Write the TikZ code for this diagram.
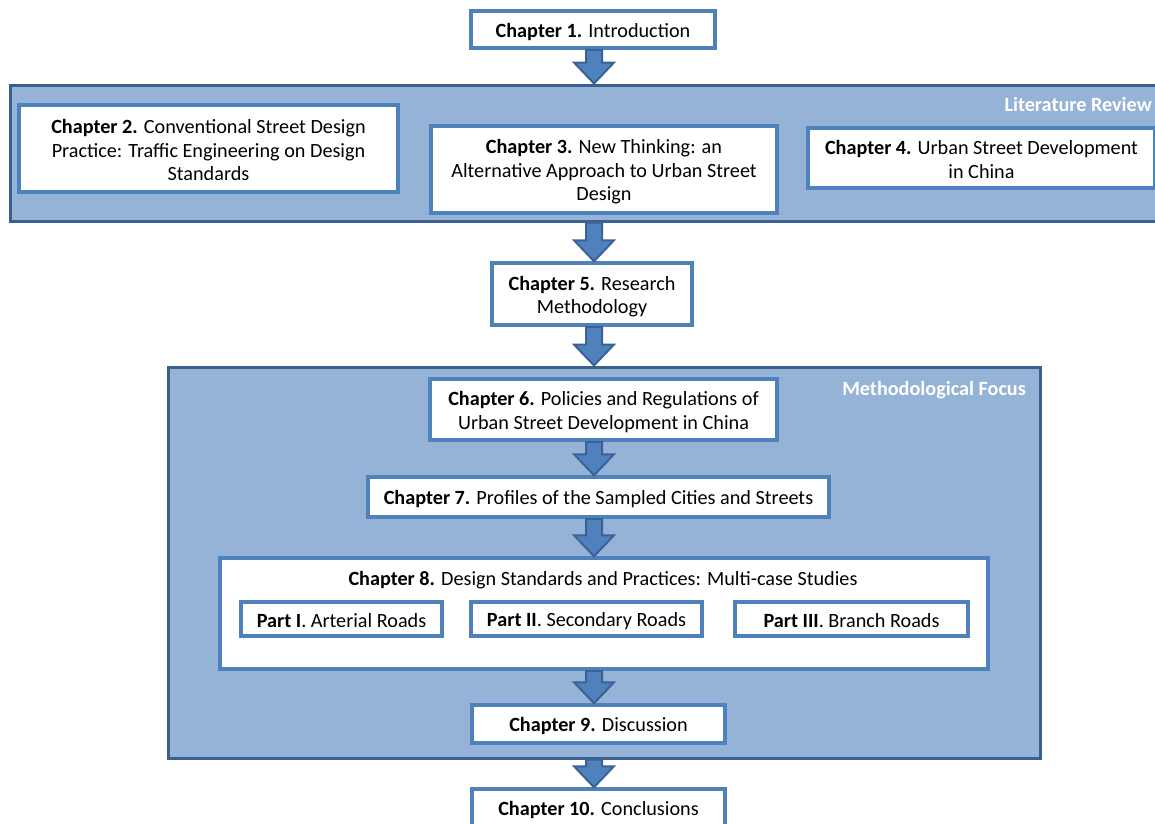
\documentclass[tikz,border=0pt]{standalone}
\usepackage{fontspec}
\setmainfont{Carlito}
\usetikzlibrary{calc}
\definecolor{boxblue}{HTML}{4F81BD}
\definecolor{grpfill}{HTML}{95B3D7}
\definecolor{grpline}{HTML}{3B5F8E}
\definecolor{arrline}{HTML}{3A6296}
\newcommand{\st}{\rule[-2pt]{0pt}{21pt}}
\tikzset{
 chbox/.style={draw=boxblue, line width=3.5pt, fill=white, inner sep=0pt, align=center, font=\fontsize{20.2}{23.5}\selectfont, text=black},
 grp/.style={draw=grpline, line width=3pt, fill=grpfill, inner sep=0pt},
 grplabel/.style={font=\fontsize{20.2}{23.5}\selectfont\bfseries, text=white, anchor=east, inner sep=0pt},
 plaintext/.style={inner sep=0pt, align=center, font=\fontsize{20.2}{23.5}\selectfont, text=black},
 barrow/.style={fill=boxblue, draw=arrline, line width=2pt, line join=miter},
}
% name, x1, y1, x2, y2, style, text
\newcommand{\rectnode}[7]{\node[#6, minimum width={(#4-#2)*1pt}, minimum height={(#5-#3)*1pt}] (#1) at ({(#2+#4)/2},{(#3+#5)/2}) {#7};}
\newcommand{\blockarr}[2]{\draw[barrow] let \p1=(#1), \p2=(#2) in
 (\x1-8pt,\y1) -- (\x1+8pt,\y1) -- (\x1+8pt,\y2+21pt) -- (\x1+20pt,\y2+21pt) -- (\x1,\y2) -- (\x1-20pt,\y2+21pt) -- (\x1-8pt,\y2+21pt) -- cycle;}
\begin{document}
\begin{tikzpicture}[x=1pt,y=-1pt]
\useasboundingbox (0,0) rectangle (1155,823);
\coordinate (axis) at (594,0);
% groups
\rectnode{lit}{10}{85}{1170}{221}{grp}{}
\node[grplabel] (litlab) at (1152,102.5) {\st Literature Review};
\rectnode{meth}{168}{367}{1040}{758}{grp}{}
\node[grplabel] (methlab) at (1026,387.5) {\st Methodological Focus};
% chapter boxes
\rectnode{ch1}{471}{11}{715}{48}{chbox}{\st\textbf{Chapter 1.} Introduction}
\rectnode{ch2}{19}{105}{398}{192}{chbox}{\st\textbf{Chapter 2.} Conventional Street Design\\\st Practice: Traffic Engineering on Design\\\st Standards}
\rectnode{ch3}{431}{126}{777}{213}{chbox}{\st\textbf{Chapter 3.} New Thinking: an\\\st Alternative Approach to Urban Street\\\st Design}
\rectnode{ch4}{808}{128}{1155}{188}{chbox}{\st\textbf{Chapter 4.} Urban Street Development\\\st in China}
\rectnode{ch5}{492}{263}{692}{325}{chbox}{\st\textbf{Chapter 5.} Research\\\st Methodology}
\rectnode{ch6}{430}{379}{777}{440}{chbox}{\st\textbf{Chapter 6.} Policies and Regulations of\\\st Urban Street Development in China}
\rectnode{ch7}{368}{477}{829}{517}{chbox}{\st\textbf{Chapter 7.} Profiles of the Sampled Cities and Streets}
\rectnode{ch8}{220}{558}{988}{669}{chbox}{}
\node[plaintext] (ch8t) at (603,577.5) {\st\textbf{Chapter 8.} Design Standards and Practices: Multi-case Studies};
\rectnode{p1}{241}{602}{442}{636}{chbox}{\st\textbf{Part I}. Arterial Roads}
\rectnode{p2}{471}{602}{702}{636}{chbox}{\st\textbf{Part II}. Secondary Roads}
\rectnode{p3}{735}{602}{968}{636}{chbox}{\st\textbf{Part III}. Branch Roads}
\rectnode{ch9}{472}{705}{725}{743}{chbox}{\st\textbf{Chapter 9.} Discussion}
\rectnode{ch10}{472}{789}{725}{830}{chbox}{\raisebox{8pt}{\st\textbf{Chapter 10.} Conclusions}}
% arrows
\blockarr{ch1.south -| axis}{lit.north -| axis}
\blockarr{lit.south -| axis}{ch5.north -| axis}
\blockarr{ch5.south -| axis}{meth.north -| axis}
\blockarr{ch6.south -| axis}{ch7.north -| axis}
\blockarr{ch7.south -| axis}{ch8.north -| axis}
\blockarr{ch8.south -| axis}{ch9.north -| axis}
\blockarr{meth.south -| axis}{ch10.north -| axis}
\end{tikzpicture}
\end{document}
